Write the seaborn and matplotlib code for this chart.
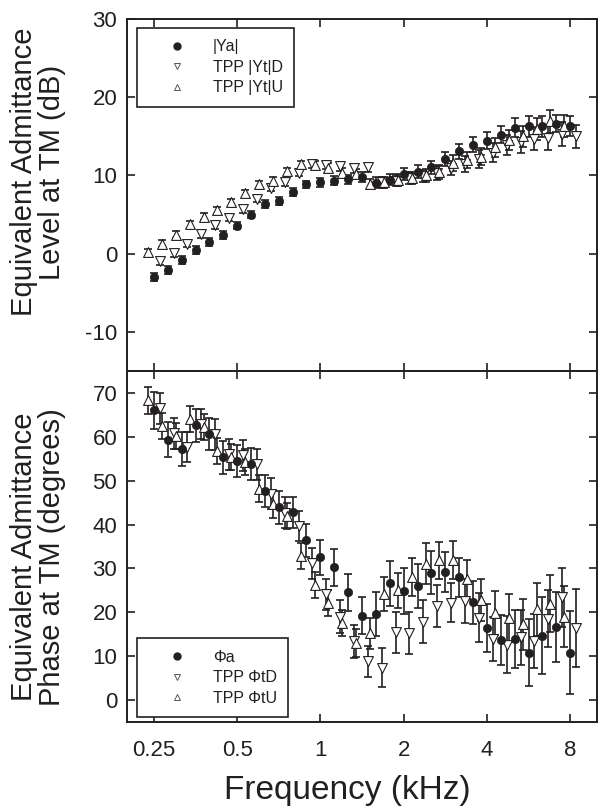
import numpy as np
import pandas as pd
import matplotlib
matplotlib.use("Agg")
import matplotlib.pyplot as plt
from matplotlib.lines import Line2D
import seaborn as sns

# ---------------- data ----------------
freq_khz = [0.25, 0.281, 0.315, 0.354, 0.397, 0.445, 0.5, 0.561, 0.63, 0.707,
            0.794, 0.891, 1.0, 1.122, 1.26, 1.414, 1.587, 1.782, 2.0, 2.245,
            2.52, 2.828, 3.175, 3.564, 4.0, 4.49, 5.04, 5.657, 6.35, 7.127, 8.0]

# level (dB)
ya_level = [-3.0, -2.1, -0.8, 0.45, 1.45, 2.4, 3.6, 5.0, 6.35, 6.75,
            7.85, 8.85, 9.1, 9.35, 9.5, 9.85, 9.05, 9.45, 10.15, 10.5,
            11.05, 12.1, 13.1, 13.95, 14.45, 15.2, 16.1, 16.3, 16.3, 16.6, 16.3]
ya_level_err = [0.55, 0.5, 0.5, 0.5, 0.5, 0.5, 0.5, 0.5, 0.5, 0.5,
                0.5, 0.5, 0.55, 0.6, 0.6, 0.65, 0.7, 0.7, 0.75, 0.8,
                0.85, 0.9, 0.95, 1.0, 1.05, 1.1, 1.2, 1.35, 1.35, 1.1, 1.3]
ytd_level = [-1.0, 0.05, 1.28, 2.5, 3.65, 4.6, 5.65, 7.0, 8.45, 9.1,
             10.35, 11.4, 11.3, 11.15, 10.9, 11.05, 9.1, 9.3, 9.7, 9.9,
             10.3, 10.9, 11.5, 12.1, 12.9, 13.85, 14.3, 14.7, 14.8, 15.3, 15.0]
ytd_level_err = [0.45, 0.45, 0.45, 0.45, 0.45, 0.45, 0.45, 0.45, 0.45, 0.45,
                 0.45, 0.45, 0.5, 0.55, 0.6, 0.6, 0.65, 0.7, 0.75, 0.8,
                 0.85, 0.9, 1.0, 1.1, 1.2, 1.3, 1.4, 1.45, 1.5, 1.5, 1.5]
ytu_level = [0.2, 1.28, 2.45, 3.75, 4.7, 5.55, 6.6, 7.75, 8.9, 9.35,
             10.55, 11.4, 11.3, 11.0, 10.35, 10.2, 8.9, 9.1, 9.4, 9.7,
             10.0, 10.4, 11.6, 12.0, 12.4, 13.6, 14.5, 15.0, 15.9, 16.9, 16.3]
ytu_level_err = [0.45, 0.45, 0.45, 0.45, 0.45, 0.45, 0.45, 0.45, 0.45, 0.45,
                 0.45, 0.45, 0.5, 0.55, 0.6, 0.6, 0.65, 0.7, 0.75, 0.8,
                 0.85, 0.9, 1.0, 1.05, 1.1, 1.2, 1.3, 1.35, 1.4, 1.45, 1.4]

# phase (degrees)
pa_phase = [66.0, 59.3, 57.2, 62.6, 60.6, 55.3, 54.5, 53.8, 47.6, 43.9,
            42.8, 36.4, 32.5, 30.3, 24.6, 19.2, 19.6, 26.6, 24.8, 26.0,
            29.0, 29.2, 28.0, 22.3, 16.4, 13.7, 13.9, 10.8, 14.7, 16.7, 10.8]
pa_phase_err = [4.2, 4.0, 3.9, 3.8, 3.7, 3.7, 3.6, 3.7, 3.6, 3.7,
                3.5, 3.7, 4.0, 4.2, 4.2, 4.2, 5.0, 5.2, 5.2, 5.1,
                4.9, 4.5, 4.4, 4.9, 5.4, 5.7, 6.7, 7.6, 8.7, 8.0, 9.4]
ptd_phase = [66.5, 60.8, 57.7, 62.9, 60.6, 56.0, 55.8, 53.7, 47.0, 42.7,
             39.7, 31.2, 24.1, 19.0, 13.4, 8.8, 7.4, 15.4, 15.2, 17.8,
             21.4, 22.2, 22.6, 18.8, 14.0, 12.6, 14.3, 13.5, 18.5, 23.4, 16.4]
ptd_phase_err = [3.5, 3.5, 3.5, 3.5, 3.5, 3.5, 3.5, 3.5, 3.5, 3.5,
                 3.5, 3.5, 3.5, 3.8, 3.8, 3.5, 4.4, 4.7, 4.8, 4.9,
                 4.8, 4.4, 5.0, 5.5, 5.0, 6.5, 6.3, 6.2, 6.5, 6.8, 8.8]
ptu_phase = [68.3, 62.5, 60.2, 64.0, 62.2, 56.8, 55.4, 54.2, 48.2, 44.6,
             42.0, 32.85, 26.3, 22.1, 17.5, 13.0, 15.2, 24.2, 25.0, 28.1,
             31.1, 31.85, 31.85, 27.5, 22.9, 19.75, 18.7, 17.3, 20.7, 21.9, 19.0]
ptu_phase_err = [3.0, 3.0, 3.0, 3.0, 3.0, 3.0, 3.0, 3.0, 3.0, 3.0,
                 3.0, 3.0, 3.0, 3.0, 3.0, 3.2, 3.5, 3.8, 4.0, 4.3,
                 4.7, 4.2, 4.3, 4.5, 4.8, 5.0, 5.5, 5.8, 6.0, 6.5, 7.0]

xtick_vals = [0.25, 0.5, 1, 2, 4, 8]
xtick_labels = ["0.25", "0.5", "1", "2", "4", "8"]
top_yticks = [30, 20, 10, 0, -10]
bot_yticks = [70, 60, 50, 40, 30, 20, 10, 0]
top_legend = ["|Ya|", "TPP |Yt|D", "TPP |Yt|U"]
bot_legend = ["\u03A6a", "TPP \u03A6tD", "TPP \u03A6tU"]

# ---------------- style ----------------
sns.set_theme(style="ticks")
plt.rcParams["font.family"] = ["Liberation Sans", "DejaVu Sans"]
INK = "#231f20"
plt.rcParams.update({
    "text.color": INK, "axes.labelcolor": INK,
    "xtick.color": INK, "ytick.color": INK, "axes.edgecolor": INK,
})

fig = plt.figure(figsize=(6.04, 8.11), dpi=100)
W, H = 604, 811
L, R = 127, 597
ax1 = fig.add_axes([L / W, 1 - 371 / H, (R - L) / W, (371 - 19) / H])
ax2 = fig.add_axes([L / W, 1 - 722 / H, (R - L) / W, (722 - 371) / H])

shift = 1.05  # small horizontal stagger between series


def draw(ax, series):
    for x, y, e, kind in series:
        ax.errorbar(x, y, yerr=e, fmt="none", ecolor=INK, elinewidth=1.2,
                    capsize=3.2, capthick=1.2, zorder=2)
    for x, y, e, kind in series:
        df = pd.DataFrame({"f": x, "v": y})
        if kind == "a":
            sns.scatterplot(data=df, x="f", y="v", ax=ax, marker="o", s=36,
                            color=INK, edgecolor=INK, linewidth=0.5, zorder=4)
        else:
            sns.scatterplot(data=df, x="f", y="v", ax=ax,
                            marker="v" if kind == "d" else "^", s=50,
                            facecolor="white", edgecolor=INK, linewidth=0.8,
                            zorder=3)


fa = np.array(freq_khz)
draw(ax1, [
    (fa * shift, ytd_level, ytd_level_err, "d"),
    (fa / shift, ytu_level, ytu_level_err, "u"),
    (fa, ya_level, ya_level_err, "a"),
])
draw(ax2, [
    (fa * shift, ptd_phase, ptd_phase_err, "d"),
    (fa / shift, ptu_phase, ptu_phase_err, "u"),
    (fa, pa_phase, pa_phase_err, "a"),
])

for ax in (ax1, ax2):
    ax.set_xscale("log")
    ax.set_xlim(0.2, 10.0)
    ax.set_xticks(xtick_vals)
    ax.xaxis.set_minor_locator(matplotlib.ticker.NullLocator())
    ax.tick_params(direction="in", length=5.5, width=1.2, top=True,
                   right=True, labelsize=16)
    ax.tick_params(axis="y", pad=7)
    ax.tick_params(axis="x", pad=13)
    for sp in ax.spines.values():
        sp.set_linewidth(1.4)
        sp.set_color(INK)

ax1.set_xticklabels([])
ax1.set_ylim(-15, 30)
ax1.set_yticks(top_yticks)
ax1.set_yticklabels([str(t) for t in top_yticks])
ax1.set_xlabel("")
ax1.set_ylabel("Equivalent Admittance\nLevel at TM (dB)", fontsize=21,
               linespacing=1.0)
ax1.yaxis.set_label_coords(-0.13, 0.565)

ax2.set_xticklabels(xtick_labels)
ax2.set_ylim(-5, 75)
ax2.set_yticks(bot_yticks)
ax2.set_ylabel("Equivalent Admittance\nPhase at TM (degrees)", fontsize=21,
               linespacing=1.0)
ax2.yaxis.set_label_coords(-0.13, 0.47)
ax2.set_xlabel("Frequency (kHz)", fontsize=24)
ax2.xaxis.set_label_coords(0.468, -0.15)


def legend_handles():
    return [
        Line2D([], [], ls="none", marker="o", ms=5, color=INK),
        Line2D([], [], ls="none", marker="v", ms=5, mfc="white",
               mec="#555555", mew=0.7),
        Line2D([], [], ls="none", marker="^", ms=5, mfc="white",
               mec="#555555", mew=0.7),
    ]


leg_kw = dict(fontsize=11.5, frameon=True, fancybox=False, borderpad=0.7,
              handlelength=3.6, handletextpad=0.45, labelspacing=0.35,
              borderaxespad=0.0)
lg1 = ax1.legend(legend_handles(), top_legend, loc="upper left",
                 bbox_to_anchor=((137 - L) / (R - L), (371 - 28) / 352), **leg_kw)
lg2 = ax2.legend(legend_handles(), bot_legend, loc="lower left",
                 bbox_to_anchor=((137 - L) / (R - L), (722 - 717) / 351), **leg_kw)
for lg in (lg1, lg2):
    fr = lg.get_frame()
    fr.set_edgecolor(INK)
    fr.set_linewidth(1.2)
    fr.set_alpha(1)

fig.savefig("out.png", dpi=100)
